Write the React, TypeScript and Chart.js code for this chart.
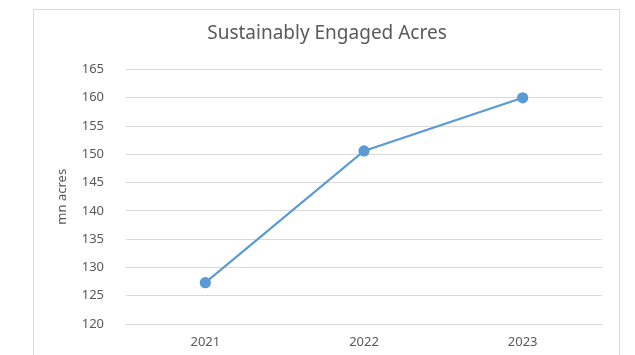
import React, { useEffect, useRef } from "react";
import { Chart, registerables } from "chart.js";

Chart.register(...registerables);

const categories = ["2021", "2022", "2023"];
const acres = [127.3, 150.6, 160.0];
const yMin = 120;
const yMax = 165;
const yStep = 5;
const chartTitle = "Sustainably Engaged Acres";
const yAxisTitle = "mn acres";

const TEXT = "#595959";
const GRID = "#D9D9D9";
const LINE = "#5B9BD5";
const FONT = "'Noto Sans', sans-serif";

export default function App() {
  const ref = useRef<HTMLCanvasElement | null>(null);

  useEffect(() => {
    if (!ref.current) return;
    const chart = new Chart(ref.current, {
      type: "line",
      data: {
        labels: categories,
        datasets: [
          {
            label: "Acres",
            data: acres,
            borderColor: LINE,
            backgroundColor: LINE,
            borderWidth: 2.25,
            pointRadius: 4.5,
            pointHoverRadius: 4.5,
            pointBackgroundColor: LINE,
            pointBorderColor: LINE,
            tension: 0,
          },
        ],
      },
      options: {
        responsive: false,
        animation: false,
        layout: { padding: { left: 52, right: 33, top: 0, bottom: 0 } },
        plugins: {
          legend: { display: false },
          tooltip: { enabled: false },
          title: {
            display: true,
            text: chartTitle,
            color: TEXT,
            font: { family: FONT, size: 19, weight: "normal" },
            padding: { top: 22, bottom: 24.7 },
          },
        },
        scales: {
          x: {
            type: "category",
            offset: true,
            grid: { display: false, drawTicks: false },
            border: { display: false },
            ticks: {
              color: TEXT,
              font: { family: FONT, size: 13 },
              padding: 10,
              maxRotation: 0,
            },
            afterFit: (s: any) => {
              s.height = 31;
            },
          },
          y: {
            min: yMin,
            max: yMax,
            grid: { color: GRID, lineWidth: 1, drawTicks: false },
            border: { display: false },
            ticks: {
              stepSize: yStep,
              color: TEXT,
              font: { family: FONT, size: 13 },
              padding: 22,
            },
            title: {
              display: true,
              text: yAxisTitle,
              color: TEXT,
              font: { family: FONT, size: 13, weight: "normal" },
              padding: { top: 2, bottom: 0 },
            },
            afterFit: (s: any) => {
              s.width = 74;
            },
          },
        },
      },
    });
    return () => chart.destroy();
  }, []);

  return (
    <div
      style={{
        position: "fixed",
        left: 0,
        top: 0,
        width: 635,
        height: 355,
        overflow: "hidden",
        background: "#ffffff",
      }}
    >
      <div
        style={{
          position: "absolute",
          left: 33,
          top: 9,
          width: 587,
          height: 400,
          border: `1px solid ${GRID}`,
          boxSizing: "border-box",
        }}
      />
      <canvas
        ref={ref}
        width={635}
        height={355}
        style={{ position: "absolute", left: 0, top: 0, width: 635, height: 355 }}
      />
    </div>
  );
}
